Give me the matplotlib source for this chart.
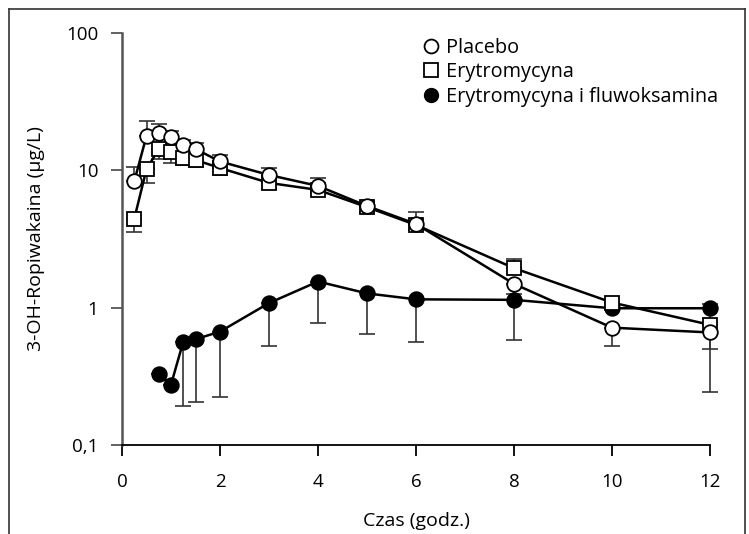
import numpy as np
import matplotlib
matplotlib.use("Agg")
from matplotlib import pyplot as plt
from matplotlib.lines import Line2D
from matplotlib.ticker import FixedLocator, FixedFormatter, NullLocator

plt.rcParams["font.family"] = ["Open Sans", "DejaVu Sans"]

# time points (h)
t_placebo = [0.25, 0.5, 0.75, 1.0, 1.25, 1.5, 2, 3, 4, 5, 6, 8, 10, 12]
t_ery = [0.25, 0.5, 0.75, 1.0, 1.25, 1.5, 2, 3, 4, 5, 6, 8, 10, 12]
t_flu = [0.75, 1.0, 1.25, 1.5, 2, 3, 4, 5, 6, 8, 10, 12]

# concentrations (ug/L)
placebo = [8.3, 17.8, 18.6, 17.4, 15.3, 14.3, 11.6, 9.25, 7.7, 5.5, 4.07, 1.49, 0.715, 0.66]
placebo_hi = [10.6, 22.9, 21.8, 19.4, 16.5, 15.9, 12.9, 10.4, 8.75, 5.8, 5.0, 1.49, 0.715, 0.66]
placebo_lo = [8.3, 17.8, 18.6, 17.4, 15.3, 14.3, 11.6, 9.25, 7.7, 5.5, 4.07, 1.26, 0.53, 0.50]

ery = [4.43, 10.2, 14.3, 13.5, 12.4, 11.9, 10.4, 8.1, 7.2, 5.4, 4.0, 1.94, 1.09, 0.75]
ery_hi = [4.43, 10.2, 14.3, 13.5, 12.4, 11.9, 10.4, 8.1, 7.2, 5.8, 4.0, 2.25, 1.09, 0.75]
ery_lo = [3.57, 8.1, 12.0, 11.4, 10.9, 10.6, 9.3, 7.3, 6.8, 5.0, 3.7, 1.94, 1.09, 0.75]

flu = [0.329, 0.275, 0.565, 0.589, 0.669, 1.08, 1.55, 1.27, 1.15, 1.14, 0.99, 0.99]
flu_hi = [0.329, 0.275, 0.565, 0.589, 0.669, 1.08, 1.55, 1.27, 1.15, 1.14, 0.99, 1.07]
flu_lo = [0.329, 0.275, 0.193, 0.206, 0.225, 0.526, 0.778, 0.643, 0.565, 0.582, 0.99, 0.245]

y_ticks = [0.1, 1, 10, 100]
y_labels = ["0,1", "1", "10", "100"]
x_ticks = [0, 2, 4, 6, 8, 10, 12]

fig = plt.figure(figsize=(7.49, 5.34), dpi=100)
ax = fig.add_axes([122 / 749, 1 - 445 / 534, 588 / 749, 412 / 534])


def draw(ax, t, y, lo, hi, marker, face, size):
    y = np.asarray(y)
    err = [y - np.asarray(lo), np.asarray(hi) - y]
    ax.errorbar(t, y, yerr=err, fmt="none", ecolor="#333333", elinewidth=1.2,
                capsize=6, capthick=1.2, zorder=2, clip_on=False)
    ax.plot(t, y, color="black", lw=1.8, zorder=3, clip_on=False)
    ax.plot(t, y, linestyle="none", marker=marker, markersize=size,
            markerfacecolor=face, markeredgecolor="black", markeredgewidth=1.3,
            zorder=4, clip_on=False)


draw(ax, t_flu, flu, flu_lo, flu_hi, "o", "black", 10.5)
draw(ax, t_ery, ery, ery_lo, ery_hi, "s", "white", 10)
draw(ax, t_placebo, placebo, placebo_lo, placebo_hi, "o", "white", 10.5)

ax.set_yscale("log")
ax.set_ylim(0.1, 100)
ax.set_xlim(0, 12)
ax.yaxis.set_major_locator(FixedLocator(y_ticks))
ax.yaxis.set_major_formatter(FixedFormatter(y_labels))
ax.yaxis.set_minor_locator(NullLocator())
ax.set_xticks(x_ticks)
ax.set_xticklabels([str(v) for v in x_ticks])

for side in ("top", "right"):
    ax.spines[side].set_visible(False)
ax.spines["left"].set_color("#555555")
ax.spines["left"].set_linewidth(1.8)
ax.spines["bottom"].set_linewidth(1.3)
ax.tick_params(axis="both", direction="out", length=8, width=1.3,
               labelsize=13.5)
ax.tick_params(axis="x", pad=12)
ax.tick_params(axis="y", color="#555555", pad=9)

ax.set_xlabel("Czas (godz.)", fontsize=14, labelpad=15)
ax.set_ylabel("3-OH-Ropiwakaina (µg/L)", fontsize=14, labelpad=15)

handles = [
    Line2D([], [], linestyle="none", marker="o", markersize=10,
           markerfacecolor="white", markeredgecolor="black", markeredgewidth=1.3),
    Line2D([], [], linestyle="none", marker="s", markersize=9.5,
           markerfacecolor="white", markeredgecolor="black", markeredgewidth=1.3),
    Line2D([], [], linestyle="none", marker="o", markersize=10,
           markerfacecolor="black", markeredgecolor="black"),
]
fig.legend(handles, ["Placebo", "Erytromycyna", "Erytromycyna i fluwoksamina"],
           loc="upper left", bbox_to_anchor=(424 / 749, 1 - 38 / 534),
           frameon=False, fontsize=14.3, handlelength=0.7, handletextpad=0.4,
           labelspacing=0.22, borderaxespad=0, borderpad=0)

# outer frame, open at the bottom
fc = "#333333"
fig.add_artist(Line2D([9 / 749, 9 / 749], [0, 1 - 9 / 534], color=fc, lw=1.2))
fig.add_artist(Line2D([9 / 749, 745 / 749], [1 - 9 / 534, 1 - 9 / 534], color=fc, lw=1.2))
fig.add_artist(Line2D([745 / 749, 745 / 749], [0, 1 - 9 / 534], color=fc, lw=1.2))

fig.savefig("out.png", dpi=100)
